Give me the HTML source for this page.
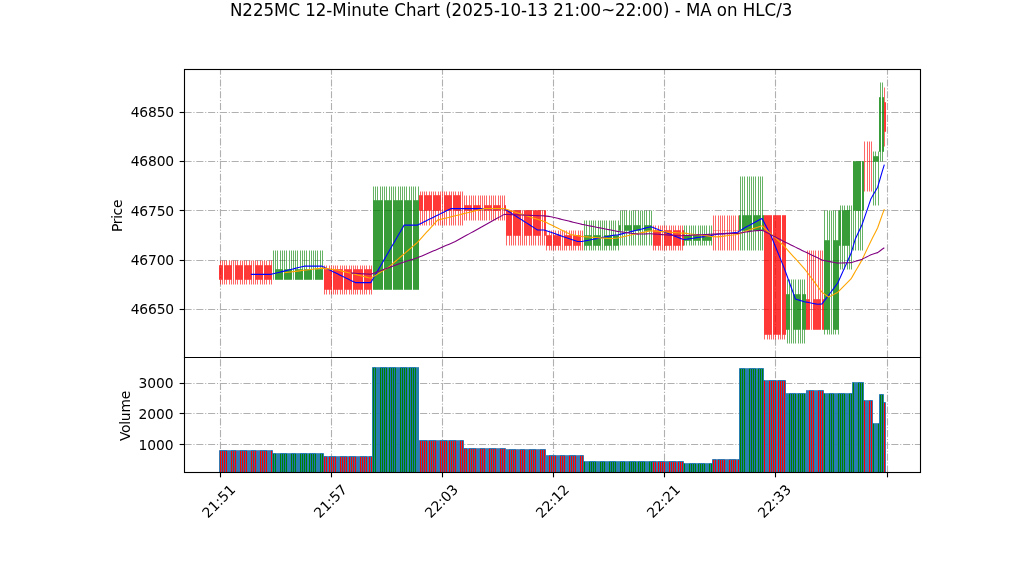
<!DOCTYPE html>
<html lang="en"><head><meta charset="utf-8"><title>N225MC 12-Minute Chart</title>
<style>html,body{margin:0;padding:0;background:#fff;overflow:hidden}body{width:1022px;height:575px}svg{display:block}</style>
</head><body>
<svg width="1022" height="575" viewBox="0 0 1022 575" style="display:block">
<rect width="1022" height="575" fill="#fff"/>
<defs>
<clipPath id="c1"><rect x="184.5" y="69.5" width="736.0" height="288.0"/></clipPath>
<clipPath id="c2"><rect x="184.5" y="357.5" width="736.0" height="115.0"/></clipPath>
</defs>
<g clip-path="url(#c1)">
<g stroke="#b0b0b0" stroke-width="1.11" stroke-dasharray="7.11 1.78 1.11 1.78" fill="none">
<path d="M220.5 357.5V69.5"/>
<path d="M331.5 357.5V69.5"/>
<path d="M442.5 357.5V69.5"/>
<path d="M553.5 357.5V69.5"/>
<path d="M664.5 357.5V69.5"/>
<path d="M775.5 357.5V69.5"/>
<path d="M887.5 357.5V69.5"/>
<path d="M184.5 309.5H920.5"/>
<path d="M184.5 260.5H920.5"/>
<path d="M184.5 210.5H920.5"/>
<path d="M184.5 161.5H920.5"/>
<path d="M184.5 112.5H920.5"/>
</g>
<path d="M220.5 284.5V279.5M220.5 265.5V260.5M222.5 284.5V279.5M222.5 265.5V260.5M224.5 284.5V279.5M224.5 265.5V260.5M226.5 284.5V279.5M226.5 265.5V260.5M229.5 284.5V279.5M229.5 265.5V260.5M231.5 284.5V279.5M231.5 265.5V260.5M233.5 284.5V279.5M233.5 265.5V260.5M235.5 284.5V279.5M235.5 265.5V260.5M237.5 284.5V279.5M237.5 265.5V260.5M240.5 284.5V279.5M240.5 265.5V260.5M242.5 284.5V279.5M242.5 265.5V260.5M244.5 284.5V279.5M244.5 265.5V260.5M246.5 284.5V279.5M246.5 265.5V260.5M249.5 284.5V279.5M249.5 265.5V260.5M251.5 284.5V279.5M251.5 265.5V260.5M253.5 284.5V279.5M253.5 265.5V260.5M255.5 284.5V279.5M255.5 265.5V260.5M257.5 284.5V279.5M257.5 265.5V260.5M260.5 284.5V279.5M260.5 265.5V260.5M262.5 284.5V279.5M262.5 265.5V260.5M264.5 284.5V279.5M264.5 265.5V260.5M266.5 284.5V279.5M266.5 265.5V260.5M269.5 284.5V279.5M269.5 265.5V260.5M271.5 284.5V279.5M271.5 265.5V260.5M324.5 294.5V289.5M324.5 269.5V265.5M326.5 294.5V289.5M326.5 269.5V265.5M329.5 294.5V289.5M329.5 269.5V265.5M331.5 294.5V289.5M331.5 269.5V265.5M333.5 294.5V289.5M333.5 269.5V265.5M335.5 294.5V289.5M335.5 269.5V265.5M337.5 294.5V289.5M337.5 269.5V265.5M340.5 294.5V289.5M340.5 269.5V265.5M342.5 294.5V289.5M342.5 269.5V265.5M344.5 294.5V289.5M344.5 269.5V265.5M346.5 294.5V289.5M346.5 269.5V265.5M349.5 294.5V289.5M349.5 269.5V265.5M351.5 294.5V289.5M351.5 269.5V265.5M353.5 294.5V289.5M353.5 269.5V265.5M355.5 294.5V289.5M355.5 269.5V265.5M357.5 294.5V289.5M357.5 269.5V265.5M360.5 294.5V289.5M360.5 269.5V265.5M362.5 294.5V289.5M362.5 269.5V265.5M364.5 294.5V289.5M364.5 269.5V265.5M366.5 294.5V289.5M366.5 269.5V265.5M369.5 294.5V289.5M369.5 269.5V265.5M371.5 294.5V289.5M371.5 269.5V265.5M420.5 225.5V210.5M420.5 195.5V191.5M422.5 225.5V210.5M422.5 195.5V191.5M424.5 225.5V210.5M424.5 195.5V191.5M426.5 225.5V210.5M426.5 195.5V191.5M429.5 225.5V210.5M429.5 195.5V191.5M431.5 225.5V210.5M431.5 195.5V191.5M433.5 225.5V210.5M433.5 195.5V191.5M435.5 225.5V210.5M435.5 195.5V191.5M438.5 225.5V210.5M438.5 195.5V191.5M440.5 225.5V210.5M440.5 195.5V191.5M442.5 225.5V210.5M442.5 195.5V191.5M444.5 225.5V210.5M444.5 195.5V191.5M446.5 225.5V210.5M446.5 195.5V191.5M449.5 225.5V210.5M449.5 195.5V191.5M451.5 225.5V210.5M451.5 195.5V191.5M453.5 225.5V210.5M453.5 195.5V191.5M455.5 225.5V210.5M455.5 195.5V191.5M458.5 225.5V210.5M458.5 195.5V191.5M460.5 225.5V210.5M460.5 195.5V191.5M462.5 225.5V210.5M462.5 195.5V191.5M464.5 220.5V210.5M464.5 205.5V195.5M466.5 220.5V210.5M466.5 205.5V195.5M469.5 220.5V210.5M469.5 205.5V195.5M471.5 220.5V210.5M471.5 205.5V195.5M473.5 220.5V210.5M473.5 205.5V195.5M475.5 220.5V210.5M475.5 205.5V195.5M478.5 220.5V210.5M478.5 205.5V195.5M480.5 220.5V210.5M480.5 205.5V195.5M482.5 220.5V210.5M482.5 205.5V195.5M484.5 220.5V210.5M484.5 205.5V195.5M486.5 220.5V210.5M486.5 205.5V195.5M489.5 220.5V210.5M489.5 205.5V195.5M491.5 220.5V210.5M491.5 205.5V195.5M493.5 220.5V210.5M493.5 205.5V195.5M495.5 220.5V210.5M495.5 205.5V195.5M498.5 220.5V210.5M498.5 205.5V195.5M500.5 220.5V210.5M500.5 205.5V195.5M502.5 220.5V210.5M502.5 205.5V195.5M504.5 220.5V210.5M504.5 205.5V195.5M506.5 245.5V235.5M509.5 245.5V235.5M511.5 245.5V235.5M513.5 245.5V235.5M515.5 245.5V235.5M518.5 245.5V235.5M520.5 245.5V235.5M522.5 245.5V235.5M524.5 245.5V235.5M526.5 245.5V235.5M529.5 245.5V235.5M531.5 245.5V235.5M533.5 245.5V235.5M535.5 245.5V235.5M538.5 245.5V235.5M540.5 245.5V235.5M542.5 245.5V235.5M544.5 245.5V235.5M546.5 250.5V245.5M546.5 235.5V230.5M549.5 250.5V245.5M549.5 235.5V230.5M551.5 250.5V245.5M551.5 235.5V230.5M553.5 250.5V245.5M553.5 235.5V230.5M555.5 250.5V245.5M555.5 235.5V230.5M558.5 250.5V245.5M558.5 235.5V230.5M560.5 250.5V245.5M560.5 235.5V230.5M562.5 250.5V245.5M562.5 235.5V230.5M564.5 250.5V245.5M564.5 235.5V230.5M566.5 250.5V245.5M566.5 235.5V230.5M569.5 250.5V245.5M569.5 235.5V230.5M571.5 250.5V245.5M571.5 235.5V230.5M573.5 250.5V245.5M573.5 235.5V230.5M575.5 250.5V245.5M575.5 235.5V230.5M578.5 250.5V245.5M578.5 235.5V230.5M580.5 250.5V245.5M580.5 235.5V230.5M582.5 250.5V245.5M582.5 235.5V230.5M653.5 250.5V245.5M653.5 230.5V225.5M655.5 250.5V245.5M655.5 230.5V225.5M658.5 250.5V245.5M658.5 230.5V225.5M660.5 250.5V245.5M660.5 230.5V225.5M662.5 250.5V245.5M662.5 230.5V225.5M664.5 250.5V245.5M664.5 230.5V225.5M666.5 250.5V245.5M666.5 230.5V225.5M669.5 250.5V245.5M669.5 230.5V225.5M671.5 250.5V245.5M671.5 230.5V225.5M673.5 250.5V245.5M673.5 230.5V225.5M675.5 250.5V245.5M675.5 230.5V225.5M678.5 250.5V245.5M678.5 230.5V225.5M680.5 250.5V245.5M680.5 230.5V225.5M682.5 250.5V245.5M682.5 230.5V225.5M713.5 250.5V230.5M713.5 230.5V215.5M715.5 250.5V230.5M715.5 230.5V215.5M718.5 250.5V230.5M718.5 230.5V215.5M720.5 250.5V230.5M720.5 230.5V215.5M722.5 250.5V230.5M722.5 230.5V215.5M724.5 250.5V230.5M724.5 230.5V215.5M727.5 250.5V230.5M727.5 230.5V215.5M729.5 250.5V230.5M729.5 230.5V215.5M731.5 250.5V230.5M731.5 230.5V215.5M733.5 250.5V230.5M733.5 230.5V215.5M735.5 250.5V230.5M735.5 230.5V215.5M738.5 250.5V230.5M738.5 230.5V215.5M764.5 339.5V334.5M767.5 339.5V334.5M769.5 339.5V334.5M771.5 339.5V334.5M773.5 339.5V334.5M775.5 339.5V334.5M778.5 339.5V334.5M780.5 339.5V334.5M782.5 339.5V334.5M784.5 339.5V334.5M807.5 299.5V250.5M809.5 299.5V250.5M811.5 299.5V250.5M813.5 299.5V250.5M815.5 299.5V250.5M818.5 299.5V250.5M820.5 299.5V250.5M822.5 299.5V250.5M864.5 191.5V161.5M864.5 161.5V141.5M867.5 191.5V161.5M867.5 161.5V141.5M869.5 191.5V161.5M869.5 161.5V141.5M871.5 191.5V161.5M871.5 161.5V141.5M884.5 146.5V131.5M884.5 102.5V87.5" stroke="#ff0000" stroke-width="0.604" fill="none"/>
<path d="M273.5 269.5V250.5M275.5 269.5V250.5M277.5 269.5V250.5M280.5 269.5V250.5M282.5 269.5V250.5M284.5 269.5V250.5M286.5 269.5V250.5M289.5 269.5V250.5M291.5 269.5V250.5M293.5 269.5V250.5M295.5 269.5V250.5M297.5 269.5V250.5M300.5 269.5V250.5M302.5 269.5V250.5M304.5 269.5V250.5M306.5 269.5V250.5M309.5 269.5V250.5M311.5 269.5V250.5M313.5 269.5V250.5M315.5 269.5V250.5M317.5 269.5V250.5M320.5 269.5V250.5M322.5 269.5V250.5M373.5 200.5V186.5M375.5 200.5V186.5M377.5 200.5V186.5M380.5 200.5V186.5M382.5 200.5V186.5M384.5 200.5V186.5M386.5 200.5V186.5M389.5 200.5V186.5M391.5 200.5V186.5M393.5 200.5V186.5M395.5 200.5V186.5M398.5 200.5V186.5M400.5 200.5V186.5M402.5 200.5V186.5M404.5 200.5V186.5M406.5 200.5V186.5M409.5 200.5V186.5M411.5 200.5V186.5M413.5 200.5V186.5M415.5 200.5V186.5M418.5 200.5V186.5M584.5 250.5V245.5M584.5 235.5V220.5M586.5 250.5V245.5M586.5 235.5V220.5M589.5 250.5V245.5M589.5 235.5V220.5M591.5 250.5V245.5M591.5 235.5V220.5M593.5 250.5V245.5M593.5 235.5V220.5M595.5 250.5V245.5M595.5 235.5V220.5M598.5 250.5V245.5M598.5 235.5V220.5M600.5 250.5V245.5M600.5 235.5V220.5M602.5 250.5V245.5M602.5 235.5V220.5M604.5 250.5V245.5M604.5 235.5V220.5M606.5 250.5V245.5M606.5 235.5V220.5M609.5 250.5V245.5M609.5 235.5V220.5M611.5 250.5V245.5M611.5 235.5V220.5M613.5 250.5V245.5M613.5 235.5V220.5M615.5 250.5V245.5M615.5 235.5V220.5M618.5 250.5V245.5M618.5 235.5V220.5M620.5 245.5V230.5M620.5 225.5V210.5M622.5 245.5V230.5M622.5 225.5V210.5M624.5 245.5V230.5M624.5 225.5V210.5M626.5 245.5V230.5M626.5 225.5V210.5M629.5 245.5V230.5M629.5 225.5V210.5M631.5 245.5V230.5M631.5 225.5V210.5M633.5 245.5V230.5M633.5 225.5V210.5M635.5 245.5V230.5M635.5 225.5V210.5M638.5 245.5V230.5M638.5 225.5V210.5M640.5 245.5V230.5M640.5 225.5V210.5M642.5 245.5V230.5M642.5 225.5V210.5M644.5 245.5V230.5M644.5 225.5V210.5M646.5 245.5V230.5M646.5 225.5V210.5M649.5 245.5V230.5M649.5 225.5V210.5M651.5 245.5V230.5M651.5 225.5V210.5M684.5 245.5V240.5M684.5 235.5V225.5M686.5 245.5V240.5M686.5 235.5V225.5M689.5 245.5V240.5M689.5 235.5V225.5M691.5 245.5V240.5M691.5 235.5V225.5M693.5 245.5V240.5M693.5 235.5V225.5M695.5 245.5V240.5M695.5 235.5V225.5M698.5 245.5V240.5M698.5 235.5V225.5M700.5 245.5V240.5M700.5 235.5V225.5M702.5 245.5V240.5M702.5 235.5V225.5M704.5 245.5V240.5M704.5 235.5V225.5M706.5 245.5V240.5M706.5 235.5V225.5M709.5 245.5V240.5M709.5 235.5V225.5M711.5 245.5V240.5M711.5 235.5V225.5M740.5 250.5V230.5M740.5 215.5V176.5M742.5 250.5V230.5M742.5 215.5V176.5M744.5 250.5V230.5M744.5 215.5V176.5M747.5 250.5V230.5M747.5 215.5V176.5M749.5 250.5V230.5M749.5 215.5V176.5M751.5 250.5V230.5M751.5 215.5V176.5M753.5 250.5V230.5M753.5 215.5V176.5M755.5 250.5V230.5M755.5 215.5V176.5M758.5 250.5V230.5M758.5 215.5V176.5M760.5 250.5V230.5M760.5 215.5V176.5M762.5 250.5V230.5M762.5 215.5V176.5M787.5 343.5V329.5M787.5 294.5V279.5M789.5 343.5V329.5M789.5 294.5V279.5M791.5 343.5V329.5M791.5 294.5V279.5M793.5 343.5V329.5M793.5 294.5V279.5M795.5 343.5V329.5M795.5 294.5V279.5M798.5 343.5V329.5M798.5 294.5V279.5M800.5 343.5V329.5M800.5 294.5V279.5M802.5 343.5V329.5M802.5 294.5V279.5M804.5 343.5V329.5M804.5 294.5V279.5M824.5 334.5V329.5M824.5 240.5V210.5M827.5 334.5V329.5M827.5 240.5V210.5M829.5 334.5V329.5M829.5 240.5V210.5M831.5 334.5V329.5M831.5 240.5V210.5M833.5 334.5V329.5M833.5 240.5V210.5M835.5 334.5V329.5M835.5 240.5V210.5M838.5 334.5V329.5M838.5 240.5V210.5M840.5 269.5V245.5M840.5 210.5V205.5M842.5 269.5V245.5M842.5 210.5V205.5M844.5 269.5V245.5M844.5 210.5V205.5M847.5 269.5V245.5M847.5 210.5V205.5M849.5 269.5V245.5M849.5 210.5V205.5M851.5 269.5V245.5M851.5 210.5V205.5M853.5 250.5V210.5M855.5 250.5V210.5M858.5 250.5V210.5M860.5 250.5V210.5M862.5 250.5V210.5M873.5 205.5V161.5M873.5 156.5V151.5M875.5 205.5V161.5M875.5 156.5V151.5M878.5 205.5V161.5M878.5 156.5V151.5M880.5 161.5V151.5M880.5 97.5V82.5M882.5 161.5V151.5M882.5 97.5V82.5" stroke="#008000" stroke-width="0.604" fill="none"/>
<path d="M219.5 265.5H220.5V279.5H219.5ZM221.5 265.5H222.5V279.5H221.5ZM224.5 265.5H225.5V279.5H224.5ZM226.5 265.5H227.5V279.5H226.5ZM228.5 265.5H229.5V279.5H228.5ZM230.5 265.5H231.5V279.5H230.5ZM235.5 265.5H236.5V279.5H235.5ZM237.5 265.5H238.5V279.5H237.5ZM239.5 265.5H240.5V279.5H239.5ZM241.5 265.5H242.5V279.5H241.5ZM244.5 265.5H245.5V279.5H244.5ZM246.5 265.5H247.5V279.5H246.5ZM248.5 265.5H249.5V279.5H248.5ZM250.5 265.5H251.5V279.5H250.5ZM255.5 265.5H256.5V279.5H255.5ZM257.5 265.5H258.5V279.5H257.5ZM259.5 265.5H260.5V279.5H259.5ZM261.5 265.5H262.5V279.5H261.5ZM264.5 265.5H265.5V279.5H264.5ZM266.5 265.5H267.5V279.5H266.5ZM268.5 265.5H269.5V279.5H268.5ZM270.5 265.5H271.5V279.5H270.5ZM324.5 269.5H325.5V289.5H324.5ZM326.5 269.5H327.5V289.5H326.5ZM328.5 269.5H329.5V289.5H328.5ZM330.5 269.5H331.5V289.5H330.5ZM333.5 269.5H334.5V289.5H333.5ZM335.5 269.5H336.5V289.5H335.5ZM337.5 269.5H338.5V289.5H337.5ZM339.5 269.5H340.5V289.5H339.5ZM341.5 269.5H342.5V289.5H341.5ZM344.5 269.5H345.5V289.5H344.5ZM346.5 269.5H347.5V289.5H346.5ZM348.5 269.5H349.5V289.5H348.5ZM350.5 269.5H351.5V289.5H350.5ZM353.5 269.5H354.5V289.5H353.5ZM355.5 269.5H356.5V289.5H355.5ZM357.5 269.5H358.5V289.5H357.5ZM359.5 269.5H360.5V289.5H359.5ZM361.5 269.5H362.5V289.5H361.5ZM364.5 269.5H365.5V289.5H364.5ZM366.5 269.5H367.5V289.5H366.5ZM368.5 269.5H369.5V289.5H368.5ZM370.5 269.5H371.5V289.5H370.5ZM419.5 195.5H420.5V210.5H419.5ZM421.5 195.5H422.5V210.5H421.5ZM424.5 195.5H425.5V210.5H424.5ZM426.5 195.5H427.5V210.5H426.5ZM428.5 195.5H429.5V210.5H428.5ZM430.5 195.5H431.5V210.5H430.5ZM433.5 195.5H434.5V210.5H433.5ZM435.5 195.5H436.5V210.5H435.5ZM437.5 195.5H438.5V210.5H437.5ZM439.5 195.5H440.5V210.5H439.5ZM444.5 195.5H445.5V210.5H444.5ZM446.5 195.5H447.5V210.5H446.5ZM448.5 195.5H449.5V210.5H448.5ZM450.5 195.5H451.5V210.5H450.5ZM453.5 195.5H454.5V210.5H453.5ZM455.5 195.5H456.5V210.5H455.5ZM457.5 195.5H458.5V210.5H457.5ZM459.5 195.5H460.5V210.5H459.5ZM464.5 205.5H465.5V210.5H464.5ZM466.5 205.5H467.5V210.5H466.5ZM468.5 205.5H469.5V210.5H468.5ZM470.5 205.5H471.5V210.5H470.5ZM473.5 205.5H474.5V210.5H473.5ZM475.5 205.5H476.5V210.5H475.5ZM477.5 205.5H478.5V210.5H477.5ZM479.5 205.5H480.5V210.5H479.5ZM484.5 205.5H485.5V210.5H484.5ZM486.5 205.5H487.5V210.5H486.5ZM488.5 205.5H489.5V210.5H488.5ZM490.5 205.5H491.5V210.5H490.5ZM493.5 205.5H494.5V210.5H493.5ZM495.5 205.5H496.5V210.5H495.5ZM497.5 205.5H498.5V210.5H497.5ZM499.5 205.5H500.5V210.5H499.5ZM504.5 205.5H505.5V210.5H504.5ZM506.5 210.5H507.5V235.5H506.5ZM508.5 210.5H509.5V235.5H508.5ZM510.5 210.5H511.5V235.5H510.5ZM513.5 210.5H514.5V235.5H513.5ZM515.5 210.5H516.5V235.5H515.5ZM517.5 210.5H518.5V235.5H517.5ZM519.5 210.5H520.5V235.5H519.5ZM524.5 210.5H525.5V235.5H524.5ZM526.5 210.5H527.5V235.5H526.5ZM528.5 210.5H529.5V235.5H528.5ZM530.5 210.5H531.5V235.5H530.5ZM533.5 210.5H534.5V235.5H533.5ZM535.5 210.5H536.5V235.5H535.5ZM537.5 210.5H538.5V235.5H537.5ZM539.5 210.5H540.5V235.5H539.5ZM544.5 210.5H545.5V235.5H544.5ZM546.5 235.5H547.5V245.5H546.5ZM548.5 235.5H549.5V245.5H548.5ZM550.5 235.5H551.5V245.5H550.5ZM553.5 235.5H554.5V245.5H553.5ZM555.5 235.5H556.5V245.5H555.5ZM557.5 235.5H558.5V245.5H557.5ZM559.5 235.5H560.5V245.5H559.5ZM564.5 235.5H565.5V245.5H564.5ZM566.5 235.5H567.5V245.5H566.5ZM568.5 235.5H569.5V245.5H568.5ZM570.5 235.5H571.5V245.5H570.5ZM573.5 235.5H574.5V245.5H573.5ZM575.5 235.5H576.5V245.5H575.5ZM577.5 235.5H578.5V245.5H577.5ZM579.5 235.5H580.5V245.5H579.5ZM653.5 230.5H654.5V245.5H653.5ZM655.5 230.5H656.5V245.5H655.5ZM657.5 230.5H658.5V245.5H657.5ZM659.5 230.5H660.5V245.5H659.5ZM664.5 230.5H665.5V245.5H664.5ZM666.5 230.5H667.5V245.5H666.5ZM668.5 230.5H669.5V245.5H668.5ZM670.5 230.5H671.5V245.5H670.5ZM673.5 230.5H674.5V245.5H673.5ZM675.5 230.5H676.5V245.5H675.5ZM677.5 230.5H678.5V245.5H677.5ZM679.5 230.5H680.5V245.5H679.5ZM682.5 230.5H683.5V245.5H682.5ZM764.5 215.5H765.5V334.5H764.5ZM766.5 215.5H767.5V334.5H766.5ZM768.5 215.5H769.5V334.5H768.5ZM770.5 215.5H771.5V334.5H770.5ZM773.5 215.5H774.5V334.5H773.5ZM775.5 215.5H776.5V334.5H775.5ZM777.5 215.5H778.5V334.5H777.5ZM779.5 215.5H780.5V334.5H779.5ZM782.5 215.5H783.5V334.5H782.5ZM784.5 215.5H785.5V334.5H784.5ZM806.5 299.5H807.5V329.5H806.5ZM808.5 299.5H809.5V329.5H808.5ZM813.5 299.5H814.5V329.5H813.5ZM815.5 299.5H816.5V329.5H815.5ZM817.5 299.5H818.5V329.5H817.5ZM819.5 299.5H820.5V329.5H819.5ZM822.5 299.5H823.5V329.5H822.5ZM884.5 102.5H885.5V131.5H884.5Z" fill="#ff0000" fill-opacity="0.9" stroke="#ff0000" stroke-width="0.604" stroke-linejoin="miter"/>
<path d="M233.5 265.2V279.8M253.5 265.2V279.8M442.5 195.2V210.8M462.5 195.2V210.8M482.5 205.2V210.8M502.5 205.2V210.8M522.5 210.2V235.8M542.5 210.2V235.8M562.5 235.2V245.8M582.5 235.2V245.8M662.5 230.2V245.8M811.5 299.2V329.8" fill="none" stroke="#ff0000" stroke-width="0.604"/>
<path d="M713.2 230.5H714.8M715.2 230.5H716.8M717.2 230.5H718.8M719.2 230.5H720.8M722.2 230.5H723.8M724.2 230.5H725.8M726.2 230.5H727.8M728.2 230.5H729.8M730.2 230.5H731.8M733.2 230.5H734.8M735.2 230.5H736.8M737.2 230.5H738.8M864.2 161.5H865.8M866.2 161.5H867.8M868.2 161.5H869.8M871.2 161.5H871.8" fill="none" stroke="#ff0000" stroke-opacity="0.65" stroke-width="0.604"/>
<path d="M275.5 269.5H276.5V279.5H275.5ZM277.5 269.5H278.5V279.5H277.5ZM279.5 269.5H280.5V279.5H279.5ZM281.5 269.5H282.5V279.5H281.5ZM284.5 269.5H285.5V279.5H284.5ZM286.5 269.5H287.5V279.5H286.5ZM288.5 269.5H289.5V279.5H288.5ZM290.5 269.5H291.5V279.5H290.5ZM295.5 269.5H296.5V279.5H295.5ZM297.5 269.5H298.5V279.5H297.5ZM299.5 269.5H300.5V279.5H299.5ZM301.5 269.5H302.5V279.5H301.5ZM304.5 269.5H305.5V279.5H304.5ZM306.5 269.5H307.5V279.5H306.5ZM308.5 269.5H309.5V279.5H308.5ZM310.5 269.5H311.5V279.5H310.5ZM315.5 269.5H316.5V279.5H315.5ZM317.5 269.5H318.5V279.5H317.5ZM319.5 269.5H320.5V279.5H319.5ZM321.5 269.5H322.5V279.5H321.5ZM373.5 200.5H374.5V289.5H373.5ZM375.5 200.5H376.5V289.5H375.5ZM377.5 200.5H378.5V289.5H377.5ZM379.5 200.5H380.5V289.5H379.5ZM381.5 200.5H382.5V289.5H381.5ZM384.5 200.5H385.5V289.5H384.5ZM386.5 200.5H387.5V289.5H386.5ZM388.5 200.5H389.5V289.5H388.5ZM390.5 200.5H391.5V289.5H390.5ZM393.5 200.5H394.5V289.5H393.5ZM395.5 200.5H396.5V289.5H395.5ZM397.5 200.5H398.5V289.5H397.5ZM399.5 200.5H400.5V289.5H399.5ZM401.5 200.5H402.5V289.5H401.5ZM404.5 200.5H405.5V289.5H404.5ZM406.5 200.5H407.5V289.5H406.5ZM408.5 200.5H409.5V289.5H408.5ZM410.5 200.5H411.5V289.5H410.5ZM413.5 200.5H414.5V289.5H413.5ZM415.5 200.5H416.5V289.5H415.5ZM417.5 200.5H418.5V289.5H417.5ZM584.5 235.5H585.5V245.5H584.5ZM586.5 235.5H587.5V245.5H586.5ZM588.5 235.5H589.5V245.5H588.5ZM590.5 235.5H591.5V245.5H590.5ZM593.5 235.5H594.5V245.5H593.5ZM595.5 235.5H596.5V245.5H595.5ZM597.5 235.5H598.5V245.5H597.5ZM599.5 235.5H600.5V245.5H599.5ZM604.5 235.5H605.5V245.5H604.5ZM606.5 235.5H607.5V245.5H606.5ZM608.5 235.5H609.5V245.5H608.5ZM610.5 235.5H611.5V245.5H610.5ZM613.5 235.5H614.5V245.5H613.5ZM615.5 235.5H616.5V245.5H615.5ZM617.5 235.5H618.5V245.5H617.5ZM619.5 225.5H620.5V230.5H619.5ZM624.5 225.5H625.5V230.5H624.5ZM626.5 225.5H627.5V230.5H626.5ZM628.5 225.5H629.5V230.5H628.5ZM630.5 225.5H631.5V230.5H630.5ZM633.5 225.5H634.5V230.5H633.5ZM635.5 225.5H636.5V230.5H635.5ZM637.5 225.5H638.5V230.5H637.5ZM639.5 225.5H640.5V230.5H639.5ZM644.5 225.5H645.5V230.5H644.5ZM646.5 225.5H647.5V230.5H646.5ZM648.5 225.5H649.5V230.5H648.5ZM650.5 225.5H651.5V230.5H650.5ZM684.5 235.5H685.5V240.5H684.5ZM686.5 235.5H687.5V240.5H686.5ZM688.5 235.5H689.5V240.5H688.5ZM690.5 235.5H691.5V240.5H690.5ZM693.5 235.5H694.5V240.5H693.5ZM695.5 235.5H696.5V240.5H695.5ZM697.5 235.5H698.5V240.5H697.5ZM699.5 235.5H700.5V240.5H699.5ZM702.5 235.5H703.5V240.5H702.5ZM704.5 235.5H705.5V240.5H704.5ZM706.5 235.5H707.5V240.5H706.5ZM708.5 235.5H709.5V240.5H708.5ZM710.5 235.5H711.5V240.5H710.5ZM739.5 215.5H740.5V230.5H739.5ZM742.5 215.5H743.5V230.5H742.5ZM744.5 215.5H745.5V230.5H744.5ZM746.5 215.5H747.5V230.5H746.5ZM748.5 215.5H749.5V230.5H748.5ZM750.5 215.5H751.5V230.5H750.5ZM753.5 215.5H754.5V230.5H753.5ZM755.5 215.5H756.5V230.5H755.5ZM757.5 215.5H758.5V230.5H757.5ZM759.5 215.5H760.5V230.5H759.5ZM762.5 215.5H763.5V230.5H762.5ZM786.5 294.5H787.5V329.5H786.5ZM788.5 294.5H789.5V329.5H788.5ZM793.5 294.5H794.5V329.5H793.5ZM795.5 294.5H796.5V329.5H795.5ZM797.5 294.5H798.5V329.5H797.5ZM799.5 294.5H800.5V329.5H799.5ZM802.5 294.5H803.5V329.5H802.5ZM804.5 294.5H805.5V329.5H804.5ZM824.5 240.5H825.5V329.5H824.5ZM826.5 240.5H827.5V329.5H826.5ZM828.5 240.5H829.5V329.5H828.5ZM833.5 240.5H834.5V329.5H833.5ZM835.5 240.5H836.5V329.5H835.5ZM837.5 240.5H838.5V329.5H837.5ZM839.5 210.5H840.5V245.5H839.5ZM842.5 210.5H843.5V245.5H842.5ZM844.5 210.5H845.5V245.5H844.5ZM846.5 210.5H847.5V245.5H846.5ZM848.5 210.5H849.5V245.5H848.5ZM853.5 161.5H854.5V210.5H853.5ZM855.5 161.5H856.5V210.5H855.5ZM857.5 161.5H858.5V210.5H857.5ZM859.5 161.5H860.5V210.5H859.5ZM862.5 161.5H863.5V210.5H862.5ZM873.5 156.5H874.5V161.5H873.5ZM875.5 156.5H876.5V161.5H875.5ZM877.5 156.5H878.5V161.5H877.5ZM879.5 97.5H880.5V151.5H879.5ZM882.5 97.5H883.5V151.5H882.5Z" fill="#008000" fill-opacity="0.9" stroke="#008000" stroke-width="0.604" stroke-linejoin="miter"/>
<path d="M273.5 269.2V279.8M293.5 269.2V279.8M313.5 269.2V279.8M602.5 235.2V245.8M622.5 225.2V230.8M642.5 225.2V230.8M791.5 294.2V329.8M831.5 240.2V329.8M851.5 210.2V245.8" fill="none" stroke="#008000" stroke-width="0.604"/>
<polyline points="250.79,274.39 253.01,274.39 255.24,274.39 257.46,274.39 259.68,274.39 261.91,274.39 264.13,274.39 266.35,274.39 268.57,274.39 270.8,274.39 273.02,273.84 275.24,273.3 277.47,272.75 279.69,272.2 281.91,271.65 284.14,271.1 286.36,270.56 288.58,270.01 290.8,269.46 293.03,268.91 295.25,268.37 297.47,267.82 299.7,267.27 301.92,266.72 304.14,266.17 306.36,266.17 308.59,266.17 310.81,266.17 313.03,266.17 315.26,266.17 317.48,266.17 319.7,266.17 321.93,266.17 324.15,267.27 326.37,268.37 328.59,269.46 330.82,270.56 333.04,271.65 335.26,272.75 337.49,273.84 339.71,274.94 341.93,276.04 344.15,277.13 346.38,278.23 348.6,279.32 350.82,280.42 353.05,281.52 355.27,282.61 357.49,282.61 359.72,282.61 361.94,282.61 364.16,282.61 366.38,282.61 368.61,282.61 370.83,282.61 373.05,278.78 375.28,274.94 377.5,271.1 379.72,267.27 381.94,263.43 384.17,259.6 386.39,255.76 388.61,251.93 390.84,248.09 393.06,244.26 395.28,240.42 397.51,236.59 399.73,232.75 401.95,228.91 404.17,225.08 406.4,225.08 408.62,225.08 410.84,225.08 413.07,225.08 415.29,225.08 417.51,225.08 419.73,223.98 421.96,222.89 424.18,221.79 426.4,220.7 428.63,219.6 430.85,218.5 433.07,217.41 435.3,216.31 437.52,215.22 439.74,214.12 441.96,213.02 444.19,211.93 446.41,210.83 448.63,209.74 450.86,208.64 453.08,208.64 455.3,208.64 457.52,208.64 459.75,208.64 461.97,208.64 464.19,208.64 466.42,208.64 468.64,208.64 470.86,208.64 473.09,208.64 475.31,208.64 477.53,208.64 479.75,208.64 481.98,208.64 484.2,208.64 486.42,208.64 488.65,208.64 490.87,208.64 493.09,208.64 495.31,208.64 497.54,208.64 499.76,208.64 501.98,208.64 504.21,208.64 506.43,210.07 508.65,211.49 510.88,212.91 513.1,214.34 515.32,215.76 517.54,217.19 519.77,218.61 521.99,220.04 524.21,221.46 526.44,222.89 528.66,224.31 530.88,225.74 533.1,227.16 535.33,228.59 537.55,230.01 539.77,230.01 542,230.01 544.22,230.01 546.44,230.78 548.67,231.54 550.89,232.31 553.11,233.08 555.33,233.85 557.56,234.61 559.78,235.38 562,236.15 564.23,236.91 566.45,237.68 568.67,238.45 570.9,239.22 573.12,239.98 575.34,240.75 577.56,241.52 579.79,241.52 582.01,241.52 584.23,241.08 586.46,240.64 588.68,240.2 590.9,239.76 593.12,239.32 595.35,238.89 597.57,238.45 599.79,238.01 602.02,237.57 604.24,237.13 606.46,236.69 608.69,236.26 610.91,235.82 613.13,235.38 615.35,234.94 617.58,234.94 619.8,234.39 622.02,233.85 624.25,233.3 626.47,232.75 628.69,232.2 630.91,231.65 633.14,231.11 635.36,230.56 637.58,230.01 639.81,229.46 642.03,228.91 644.25,228.37 646.48,227.82 648.7,227.27 650.92,226.72 653.14,227.6 655.37,228.48 657.59,229.35 659.81,230.23 662.04,231.11 664.26,231.98 666.48,232.86 668.7,233.74 670.93,234.61 673.15,235.49 675.37,236.37 677.6,237.24 679.82,238.12 682.04,239 684.27,239.54 686.49,239.22 688.71,238.89 690.93,238.56 693.16,238.23 695.38,237.9 697.6,237.57 699.83,237.24 702.05,236.91 704.27,236.59 706.49,236.26 708.72,235.93 710.94,235.6 713.16,235.05 715.39,234.5 717.61,234.28 719.83,234.06 722.06,233.85 724.28,233.63 726.5,233.41 728.72,233.19 730.95,232.97 733.17,232.75 735.39,232.53 737.62,232.31 739.84,230.89 742.06,229.46 744.28,228.04 746.51,226.83 748.73,225.63 750.95,224.42 753.18,223.22 755.4,222.01 757.62,220.8 759.85,219.6 762.07,218.39 764.29,222.67 766.51,226.94 768.74,231.22 770.96,235.49 773.18,240.97 775.41,246.45 777.63,251.93 779.85,257.41 782.07,262.89 784.3,268.37 786.52,274.5 788.74,280.64 790.97,286.78 793.19,292.91 795.41,299.05 797.64,299.71 799.86,300.36 802.08,301.02 804.3,301.68 806.53,302.12 808.75,302.56 810.97,302.99 813.2,303.43 815.42,303.87 817.64,304.31 819.86,304.09 822.09,303.87 824.31,300.91 826.53,297.95 828.76,294.99 830.98,292.04 833.2,289.08 835.43,286.12 837.65,283.16 839.87,278.23 842.09,273.3 844.32,268.37 846.54,263.43 848.76,258.5 850.99,253.57 853.21,246.12 855.43,238.67 857.65,233.95 859.88,229.24 862.1,224.53 864.32,218.06 866.55,211.6 868.77,205.13 870.99,198.67 873.22,194.83 875.44,191 877.66,187.16 879.88,179.49 882.11,171.82 884.33,164.7" fill="none" stroke="#0000ff" stroke-width="1.1" stroke-linejoin="round"/>
<polyline points="284.14,272.75 286.36,272.47 288.58,272.2 290.8,271.93 293.03,271.65 295.25,271.38 297.47,271.1 299.7,270.83 301.92,270.56 304.14,270.28 306.36,270.01 308.59,269.73 310.81,269.46 313.03,269.19 315.26,268.91 317.48,268.64 319.7,268.37 321.93,268.09 324.15,268.37 326.37,268.64 328.59,268.91 330.82,269.19 333.04,269.46 335.26,269.73 337.49,270.01 339.71,270.56 341.93,271.1 344.15,271.65 346.38,272.2 348.6,272.75 350.82,273.3 353.05,273.84 355.27,274.39 357.49,274.94 359.72,275.49 361.94,276.04 364.16,276.58 366.38,277.13 368.61,277.68 370.83,278.23 373.05,276.86 375.28,275.49 377.5,274.12 379.72,272.75 381.94,271.38 384.17,270.01 386.39,268.64 388.61,267.27 390.84,265.35 393.06,263.43 395.28,261.52 397.51,259.6 399.73,257.68 401.95,255.76 404.17,253.84 406.4,251.93 408.62,250.01 410.84,248.09 413.07,246.17 415.29,244.26 417.51,242.34 419.73,239.87 421.96,237.41 424.18,234.94 426.4,232.48 428.63,230.01 430.85,227.54 433.07,225.08 435.3,222.61 437.52,220.15 439.74,219.6 441.96,219.05 444.19,218.5 446.41,217.96 448.63,217.41 450.86,216.86 453.08,216.31 455.3,215.76 457.52,215.22 459.75,214.67 461.97,214.12 464.19,213.57 466.42,213.02 468.64,212.48 470.86,211.93 473.09,211.38 475.31,210.83 477.53,210.28 479.75,209.74 481.98,209.19 484.2,208.64 486.42,208.64 488.65,208.64 490.87,208.64 493.09,208.64 495.31,208.64 497.54,208.64 499.76,208.64 501.98,208.64 504.21,208.64 506.43,209.35 508.65,210.07 510.88,210.78 513.1,211.49 515.32,212.2 517.54,212.91 519.77,213.63 521.99,214.34 524.21,215.05 526.44,215.76 528.66,216.48 530.88,217.19 533.1,217.9 535.33,218.61 537.55,219.33 539.77,220.04 542,220.75 544.22,221.46 546.44,222.56 548.67,223.65 550.89,224.75 553.11,225.85 555.33,226.94 557.56,228.04 559.78,229.13 562,230.23 564.23,231.32 566.45,232.42 568.67,233.52 570.9,234.61 573.12,235 575.34,235.38 577.56,235.76 579.79,236.15 582.01,236.53 584.23,236.69 586.46,236.86 588.68,237.02 590.9,237.19 593.12,237.35 595.35,237.52 597.57,237.68 599.79,237.85 602.02,238.01 604.24,238.17 606.46,238.34 608.69,238.5 610.91,238.67 613.13,238.45 615.35,238.23 617.58,238.01 619.8,237.52 622.02,237.02 624.25,236.53 626.47,236.04 628.69,235.54 630.91,235.05 633.14,234.56 635.36,234.06 637.58,233.57 639.81,233.08 642.03,232.59 644.25,232.09 646.48,231.6 648.7,231.11 650.92,230.83 653.14,231 655.37,231.16 657.59,231.32 659.81,231.49 662.04,231.65 664.26,231.82 666.48,231.98 668.7,232.15 670.93,232.31 673.15,232.48 675.37,232.64 677.6,232.8 679.82,232.97 682.04,233.13 684.27,233.13 686.49,233.41 688.71,233.68 690.93,233.95 693.16,234.23 695.38,234.5 697.6,234.78 699.83,235.05 702.05,235.32 704.27,235.6 706.49,235.87 708.72,236.15 710.94,236.42 713.16,236.59 715.39,236.75 717.61,236.91 719.83,236.64 722.06,236.37 724.28,236.09 726.5,235.82 728.72,235.54 730.95,235.27 733.17,235 735.39,234.72 737.62,234.45 739.84,233.57 742.06,232.69 744.28,231.82 746.51,230.94 748.73,230.06 750.95,229.35 753.18,228.64 755.4,227.93 757.62,227.22 759.85,226.5 762.07,225.79 764.29,227.82 766.51,229.85 768.74,231.87 770.96,233.9 773.18,235.93 775.41,237.95 777.63,239.98 779.85,242.12 782.07,244.26 784.3,246.39 786.52,248.86 788.74,251.32 790.97,253.79 793.19,256.26 795.41,258.72 797.64,261.19 799.86,263.65 802.08,266.12 804.3,268.58 806.53,271.54 808.75,274.5 810.97,277.46 813.2,280.42 815.42,283.38 817.64,286.34 819.86,289.3 822.09,292.25 824.31,293.84 826.53,295.43 828.76,297.02 830.98,295.87 833.2,294.72 835.43,293.57 837.65,292.42 839.87,290.17 842.09,287.93 844.32,285.68 846.54,283.43 848.76,281.19 850.99,278.94 853.21,275.1 855.43,271.27 857.65,267.43 859.88,263.6 862.1,259.76 864.32,255.05 866.55,250.34 868.77,245.63 870.99,240.91 873.22,236.53 875.44,232.15 877.66,227.76 879.88,221.46 882.11,215.16 884.33,209.13" fill="none" stroke="#ffa500" stroke-width="1.1" stroke-linejoin="round"/>
<polyline points="350.82,273.02 353.05,273.16 355.27,273.3 357.49,273.43 359.72,273.57 361.94,273.71 364.16,273.84 366.38,273.98 368.61,274.12 370.83,274.26 373.05,273.43 375.28,272.61 377.5,271.79 379.72,270.97 381.94,270.15 384.17,269.32 386.39,268.5 388.61,267.68 390.84,266.86 393.06,266.04 395.28,265.21 397.51,264.39 399.73,263.57 401.95,262.75 404.17,261.93 406.4,261.24 408.62,260.56 410.84,259.87 413.07,259.19 415.29,258.5 417.51,257.82 419.73,256.86 421.96,255.9 424.18,254.94 426.4,253.98 428.63,253.02 430.85,252.06 433.07,251.11 435.3,250.15 437.52,249.19 439.74,248.23 441.96,247.27 444.19,246.31 446.41,245.35 448.63,244.39 450.86,243.43 453.08,242.48 455.3,241.52 457.52,240.28 459.75,239.05 461.97,237.82 464.19,236.59 466.42,235.35 468.64,234.12 470.86,232.89 473.09,231.65 475.31,230.42 477.53,229.19 479.75,227.96 481.98,226.72 484.2,225.49 486.42,224.26 488.65,223.02 490.87,221.79 493.09,220.56 495.31,219.33 497.54,218.09 499.76,216.86 501.98,215.63 504.21,214.39 506.43,214.48 508.65,214.56 510.88,214.64 513.1,214.72 515.32,214.8 517.54,214.89 519.77,214.97 521.99,215.05 524.21,215.13 526.44,215.22 528.66,215.3 530.88,215.38 533.1,215.46 535.33,215.54 537.55,215.63 539.77,215.71 542,215.79 544.22,215.87 546.44,216.15 548.67,216.42 550.89,216.7 553.11,217.24 555.33,217.79 557.56,218.34 559.78,218.89 562,219.43 564.23,219.98 566.45,220.53 568.67,221.08 570.9,221.63 573.12,222.17 575.34,222.72 577.56,223.27 579.79,223.82 582.01,224.37 584.23,224.8 586.46,225.24 588.68,225.68 590.9,226.12 593.12,226.56 595.35,227 597.57,227.43 599.79,227.87 602.02,228.31 604.24,228.75 606.46,229.19 608.69,229.63 610.91,230.06 613.13,230.5 615.35,230.94 617.58,231.38 619.8,231.68 622.02,231.98 624.25,232.28 626.47,232.59 628.69,232.89 630.91,233.19 633.14,233.49 635.36,233.79 637.58,234.09 639.81,234.04 642.03,233.98 644.25,233.93 646.48,233.87 648.7,233.82 650.92,233.76 653.14,233.93 655.37,234.09 657.59,234.26 659.81,234.42 662.04,234.59 664.26,234.75 666.48,234.91 668.7,235.08 670.93,235.24 673.15,235.41 675.37,235.57 677.6,235.74 679.82,235.71 682.04,235.68 684.27,235.57 686.49,235.46 688.71,235.35 690.93,235.24 693.16,235.13 695.38,235.02 697.6,234.91 699.83,234.8 702.05,234.69 704.27,234.59 706.49,234.48 708.72,234.37 710.94,234.26 713.16,234.09 715.39,233.93 717.61,233.87 719.83,233.82 722.06,233.76 724.28,233.71 726.5,233.65 728.72,233.6 730.95,233.54 733.17,233.49 735.39,233.43 737.62,233.38 739.84,233.02 742.06,232.67 744.28,232.31 746.51,231.96 748.73,231.6 750.95,231.24 753.18,231.02 755.4,230.8 757.62,230.59 759.85,230.37 762.07,230.15 764.29,231.3 766.51,232.45 768.74,233.6 770.96,234.75 773.18,235.9 775.41,237.05 777.63,238.2 779.85,239.35 782.07,240.5 784.3,241.65 786.52,242.75 788.74,243.85 790.97,244.94 793.19,246.04 795.41,247.13 797.64,248.23 799.86,249.32 802.08,250.42 804.3,251.52 806.53,252.56 808.75,253.6 810.97,254.64 813.2,255.68 815.42,256.72 817.64,257.84 819.86,258.97 822.09,260.09 824.31,260.53 826.53,260.97 828.76,261.41 830.98,261.84 833.2,262.28 835.43,262.72 837.65,263.16 839.87,263.05 842.09,262.94 844.32,262.83 846.54,262.78 848.76,262.72 850.99,262.67 853.21,261.98 855.43,261.3 857.65,260.61 859.88,259.93 862.1,259.24 864.32,258.12 866.55,257 868.77,255.87 870.99,254.75 873.22,254.04 875.44,253.32 877.66,252.61 879.88,250.94 882.11,249.27 884.33,247.74" fill="none" stroke="#800080" stroke-width="1.1" stroke-linejoin="round"/>
</g>
<g clip-path="url(#c2)">
<g stroke="#b0b0b0" stroke-width="1.11" stroke-dasharray="7.11 1.78 1.11 1.78" fill="none">
<path d="M220.5 472.5V357.5"/>
<path d="M331.5 472.5V357.5"/>
<path d="M442.5 472.5V357.5"/>
<path d="M553.5 472.5V357.5"/>
<path d="M664.5 472.5V357.5"/>
<path d="M775.5 472.5V357.5"/>
<path d="M887.5 472.5V357.5"/>
<path d="M184.5 444.5H920.5"/>
<path d="M184.5 413.5H920.5"/>
<path d="M184.5 383.5H920.5"/>
</g>
<path d="M219.5 477.5V450.5H221.5V477.5ZM221.5 477.5V450.5H223.5V477.5ZM223.5 477.5V450.5H225.5V477.5ZM225.5 477.5V450.5H227.5V477.5ZM228.5 477.5V450.5H229.5V477.5ZM230.5 477.5V450.5H232.5V477.5ZM232.5 477.5V450.5H234.5V477.5ZM234.5 477.5V450.5H236.5V477.5ZM237.5 477.5V450.5H238.5V477.5ZM239.5 477.5V450.5H241.5V477.5ZM241.5 477.5V450.5H243.5V477.5ZM243.5 477.5V450.5H245.5V477.5ZM245.5 477.5V450.5H247.5V477.5ZM248.5 477.5V450.5H249.5V477.5ZM250.5 477.5V450.5H252.5V477.5ZM252.5 477.5V450.5H254.5V477.5ZM254.5 477.5V450.5H256.5V477.5ZM257.5 477.5V450.5H258.5V477.5ZM259.5 477.5V450.5H261.5V477.5ZM261.5 477.5V450.5H263.5V477.5ZM263.5 477.5V450.5H265.5V477.5ZM265.5 477.5V450.5H267.5V477.5ZM268.5 477.5V450.5H269.5V477.5ZM270.5 477.5V450.5H272.5V477.5ZM323.5 477.5V456.5H325.5V477.5ZM325.5 477.5V456.5H327.5V477.5ZM328.5 477.5V456.5H330.5V477.5ZM330.5 477.5V456.5H332.5V477.5ZM332.5 477.5V456.5H334.5V477.5ZM334.5 477.5V456.5H336.5V477.5ZM337.5 477.5V456.5H338.5V477.5ZM339.5 477.5V456.5H341.5V477.5ZM341.5 477.5V456.5H343.5V477.5ZM343.5 477.5V456.5H345.5V477.5ZM345.5 477.5V456.5H347.5V477.5ZM348.5 477.5V456.5H350.5V477.5ZM350.5 477.5V456.5H352.5V477.5ZM352.5 477.5V456.5H354.5V477.5ZM354.5 477.5V456.5H356.5V477.5ZM357.5 477.5V456.5H358.5V477.5ZM359.5 477.5V456.5H361.5V477.5ZM361.5 477.5V456.5H363.5V477.5ZM363.5 477.5V456.5H365.5V477.5ZM365.5 477.5V456.5H367.5V477.5ZM368.5 477.5V456.5H370.5V477.5ZM370.5 477.5V456.5H372.5V477.5ZM419.5 477.5V440.5H421.5V477.5ZM421.5 477.5V440.5H423.5V477.5ZM423.5 477.5V440.5H425.5V477.5ZM425.5 477.5V440.5H427.5V477.5ZM428.5 477.5V440.5H430.5V477.5ZM430.5 477.5V440.5H432.5V477.5ZM432.5 477.5V440.5H434.5V477.5ZM434.5 477.5V440.5H436.5V477.5ZM437.5 477.5V440.5H438.5V477.5ZM439.5 477.5V440.5H441.5V477.5ZM441.5 477.5V440.5H443.5V477.5ZM443.5 477.5V440.5H445.5V477.5ZM445.5 477.5V440.5H447.5V477.5ZM448.5 477.5V440.5H450.5V477.5ZM450.5 477.5V440.5H452.5V477.5ZM452.5 477.5V440.5H454.5V477.5ZM454.5 477.5V440.5H456.5V477.5ZM457.5 477.5V440.5H458.5V477.5ZM459.5 477.5V440.5H461.5V477.5ZM461.5 477.5V440.5H463.5V477.5ZM463.5 477.5V448.5H465.5V477.5ZM465.5 477.5V448.5H467.5V477.5ZM468.5 477.5V448.5H470.5V477.5ZM470.5 477.5V448.5H472.5V477.5ZM472.5 477.5V448.5H474.5V477.5ZM474.5 477.5V448.5H476.5V477.5ZM477.5 477.5V448.5H478.5V477.5ZM479.5 477.5V448.5H481.5V477.5ZM481.5 477.5V448.5H483.5V477.5ZM483.5 477.5V448.5H485.5V477.5ZM486.5 477.5V448.5H487.5V477.5ZM488.5 477.5V448.5H490.5V477.5ZM490.5 477.5V448.5H492.5V477.5ZM492.5 477.5V448.5H494.5V477.5ZM494.5 477.5V448.5H496.5V477.5ZM497.5 477.5V448.5H498.5V477.5ZM499.5 477.5V448.5H501.5V477.5ZM501.5 477.5V448.5H503.5V477.5ZM503.5 477.5V448.5H505.5V477.5ZM506.5 477.5V449.5H507.5V477.5ZM508.5 477.5V449.5H510.5V477.5ZM510.5 477.5V449.5H512.5V477.5ZM512.5 477.5V449.5H514.5V477.5ZM514.5 477.5V449.5H516.5V477.5ZM517.5 477.5V449.5H518.5V477.5ZM519.5 477.5V449.5H521.5V477.5ZM521.5 477.5V449.5H523.5V477.5ZM523.5 477.5V449.5H525.5V477.5ZM526.5 477.5V449.5H527.5V477.5ZM528.5 477.5V449.5H530.5V477.5ZM530.5 477.5V449.5H532.5V477.5ZM532.5 477.5V449.5H534.5V477.5ZM534.5 477.5V449.5H536.5V477.5ZM537.5 477.5V449.5H538.5V477.5ZM539.5 477.5V449.5H541.5V477.5ZM541.5 477.5V449.5H543.5V477.5ZM543.5 477.5V449.5H545.5V477.5ZM546.5 477.5V455.5H547.5V477.5ZM548.5 477.5V455.5H550.5V477.5ZM550.5 477.5V455.5H552.5V477.5ZM552.5 477.5V455.5H554.5V477.5ZM554.5 477.5V455.5H556.5V477.5ZM557.5 477.5V455.5H558.5V477.5ZM559.5 477.5V455.5H561.5V477.5ZM561.5 477.5V455.5H563.5V477.5ZM563.5 477.5V455.5H565.5V477.5ZM566.5 477.5V455.5H567.5V477.5ZM568.5 477.5V455.5H570.5V477.5ZM570.5 477.5V455.5H572.5V477.5ZM572.5 477.5V455.5H574.5V477.5ZM574.5 477.5V455.5H576.5V477.5ZM577.5 477.5V455.5H578.5V477.5ZM579.5 477.5V455.5H581.5V477.5ZM581.5 477.5V455.5H583.5V477.5ZM652.5 477.5V461.5H654.5V477.5ZM654.5 477.5V461.5H656.5V477.5ZM657.5 477.5V461.5H659.5V477.5ZM659.5 477.5V461.5H661.5V477.5ZM661.5 477.5V461.5H663.5V477.5ZM663.5 477.5V461.5H665.5V477.5ZM666.5 477.5V461.5H667.5V477.5ZM668.5 477.5V461.5H670.5V477.5ZM670.5 477.5V461.5H672.5V477.5ZM672.5 477.5V461.5H674.5V477.5ZM674.5 477.5V461.5H676.5V477.5ZM677.5 477.5V461.5H679.5V477.5ZM679.5 477.5V461.5H681.5V477.5ZM681.5 477.5V461.5H683.5V477.5ZM712.5 477.5V459.5H714.5V477.5ZM714.5 477.5V459.5H716.5V477.5ZM717.5 477.5V459.5H719.5V477.5ZM719.5 477.5V459.5H721.5V477.5ZM721.5 477.5V459.5H723.5V477.5ZM723.5 477.5V459.5H725.5V477.5ZM726.5 477.5V459.5H727.5V477.5ZM728.5 477.5V459.5H730.5V477.5ZM730.5 477.5V459.5H732.5V477.5ZM732.5 477.5V459.5H734.5V477.5ZM734.5 477.5V459.5H736.5V477.5ZM737.5 477.5V459.5H739.5V477.5ZM763.5 477.5V380.5H765.5V477.5ZM766.5 477.5V380.5H767.5V477.5ZM768.5 477.5V380.5H770.5V477.5ZM770.5 477.5V380.5H772.5V477.5ZM772.5 477.5V380.5H774.5V477.5ZM774.5 477.5V380.5H776.5V477.5ZM777.5 477.5V380.5H779.5V477.5ZM779.5 477.5V380.5H781.5V477.5ZM781.5 477.5V380.5H783.5V477.5ZM783.5 477.5V380.5H785.5V477.5ZM806.5 477.5V390.5H807.5V477.5ZM808.5 477.5V390.5H810.5V477.5ZM810.5 477.5V390.5H812.5V477.5ZM812.5 477.5V390.5H814.5V477.5ZM815.5 477.5V390.5H816.5V477.5ZM817.5 477.5V390.5H819.5V477.5ZM819.5 477.5V390.5H821.5V477.5ZM821.5 477.5V390.5H823.5V477.5ZM863.5 477.5V400.5H865.5V477.5ZM866.5 477.5V400.5H867.5V477.5ZM868.5 477.5V400.5H870.5V477.5ZM870.5 477.5V400.5H872.5V477.5ZM883.5 477.5V402.5H885.5V477.5Z" fill="#ff0000" stroke="#1f77b4" stroke-width="0.9"/>
<path d="M272.5 477.5V453.5H274.5V477.5ZM274.5 477.5V453.5H276.5V477.5ZM277.5 477.5V453.5H278.5V477.5ZM279.5 477.5V453.5H281.5V477.5ZM281.5 477.5V453.5H283.5V477.5ZM283.5 477.5V453.5H285.5V477.5ZM285.5 477.5V453.5H287.5V477.5ZM288.5 477.5V453.5H289.5V477.5ZM290.5 477.5V453.5H292.5V477.5ZM292.5 477.5V453.5H294.5V477.5ZM294.5 477.5V453.5H296.5V477.5ZM297.5 477.5V453.5H298.5V477.5ZM299.5 477.5V453.5H301.5V477.5ZM301.5 477.5V453.5H303.5V477.5ZM303.5 477.5V453.5H305.5V477.5ZM305.5 477.5V453.5H307.5V477.5ZM308.5 477.5V453.5H310.5V477.5ZM310.5 477.5V453.5H312.5V477.5ZM312.5 477.5V453.5H314.5V477.5ZM314.5 477.5V453.5H316.5V477.5ZM317.5 477.5V453.5H318.5V477.5ZM319.5 477.5V453.5H321.5V477.5ZM321.5 477.5V453.5H323.5V477.5ZM372.5 477.5V367.5H374.5V477.5ZM374.5 477.5V367.5H376.5V477.5ZM377.5 477.5V367.5H378.5V477.5ZM379.5 477.5V367.5H381.5V477.5ZM381.5 477.5V367.5H383.5V477.5ZM383.5 477.5V367.5H385.5V477.5ZM385.5 477.5V367.5H387.5V477.5ZM388.5 477.5V367.5H390.5V477.5ZM390.5 477.5V367.5H392.5V477.5ZM392.5 477.5V367.5H394.5V477.5ZM394.5 477.5V367.5H396.5V477.5ZM397.5 477.5V367.5H398.5V477.5ZM399.5 477.5V367.5H401.5V477.5ZM401.5 477.5V367.5H403.5V477.5ZM403.5 477.5V367.5H405.5V477.5ZM405.5 477.5V367.5H407.5V477.5ZM408.5 477.5V367.5H410.5V477.5ZM410.5 477.5V367.5H412.5V477.5ZM412.5 477.5V367.5H414.5V477.5ZM414.5 477.5V367.5H416.5V477.5ZM417.5 477.5V367.5H418.5V477.5ZM583.5 477.5V461.5H585.5V477.5ZM586.5 477.5V461.5H587.5V477.5ZM588.5 477.5V461.5H590.5V477.5ZM590.5 477.5V461.5H592.5V477.5ZM592.5 477.5V461.5H594.5V477.5ZM594.5 477.5V461.5H596.5V477.5ZM597.5 477.5V461.5H598.5V477.5ZM599.5 477.5V461.5H601.5V477.5ZM601.5 477.5V461.5H603.5V477.5ZM603.5 477.5V461.5H605.5V477.5ZM606.5 477.5V461.5H607.5V477.5ZM608.5 477.5V461.5H610.5V477.5ZM610.5 477.5V461.5H612.5V477.5ZM612.5 477.5V461.5H614.5V477.5ZM614.5 477.5V461.5H616.5V477.5ZM617.5 477.5V461.5H618.5V477.5ZM619.5 477.5V461.5H621.5V477.5ZM621.5 477.5V461.5H623.5V477.5ZM623.5 477.5V461.5H625.5V477.5ZM626.5 477.5V461.5H627.5V477.5ZM628.5 477.5V461.5H630.5V477.5ZM630.5 477.5V461.5H632.5V477.5ZM632.5 477.5V461.5H634.5V477.5ZM634.5 477.5V461.5H636.5V477.5ZM637.5 477.5V461.5H639.5V477.5ZM639.5 477.5V461.5H641.5V477.5ZM641.5 477.5V461.5H643.5V477.5ZM643.5 477.5V461.5H645.5V477.5ZM646.5 477.5V461.5H647.5V477.5ZM648.5 477.5V461.5H650.5V477.5ZM650.5 477.5V461.5H652.5V477.5ZM683.5 477.5V463.5H685.5V477.5ZM686.5 477.5V463.5H687.5V477.5ZM688.5 477.5V463.5H690.5V477.5ZM690.5 477.5V463.5H692.5V477.5ZM692.5 477.5V463.5H694.5V477.5ZM694.5 477.5V463.5H696.5V477.5ZM697.5 477.5V463.5H699.5V477.5ZM699.5 477.5V463.5H701.5V477.5ZM701.5 477.5V463.5H703.5V477.5ZM703.5 477.5V463.5H705.5V477.5ZM706.5 477.5V463.5H707.5V477.5ZM708.5 477.5V463.5H710.5V477.5ZM710.5 477.5V463.5H712.5V477.5ZM739.5 477.5V368.5H741.5V477.5ZM741.5 477.5V368.5H743.5V477.5ZM743.5 477.5V368.5H745.5V477.5ZM746.5 477.5V368.5H747.5V477.5ZM748.5 477.5V368.5H750.5V477.5ZM750.5 477.5V368.5H752.5V477.5ZM752.5 477.5V368.5H754.5V477.5ZM754.5 477.5V368.5H756.5V477.5ZM757.5 477.5V368.5H759.5V477.5ZM759.5 477.5V368.5H761.5V477.5ZM761.5 477.5V368.5H763.5V477.5ZM786.5 477.5V393.5H787.5V477.5ZM788.5 477.5V393.5H790.5V477.5ZM790.5 477.5V393.5H792.5V477.5ZM792.5 477.5V393.5H794.5V477.5ZM794.5 477.5V393.5H796.5V477.5ZM797.5 477.5V393.5H799.5V477.5ZM799.5 477.5V393.5H801.5V477.5ZM801.5 477.5V393.5H803.5V477.5ZM803.5 477.5V393.5H805.5V477.5ZM823.5 477.5V393.5H825.5V477.5ZM826.5 477.5V393.5H827.5V477.5ZM828.5 477.5V393.5H830.5V477.5ZM830.5 477.5V393.5H832.5V477.5ZM832.5 477.5V393.5H834.5V477.5ZM835.5 477.5V393.5H836.5V477.5ZM837.5 477.5V393.5H839.5V477.5ZM839.5 477.5V393.5H841.5V477.5ZM841.5 477.5V393.5H843.5V477.5ZM843.5 477.5V393.5H845.5V477.5ZM846.5 477.5V393.5H847.5V477.5ZM848.5 477.5V393.5H850.5V477.5ZM850.5 477.5V393.5H852.5V477.5ZM852.5 477.5V382.5H854.5V477.5ZM855.5 477.5V382.5H856.5V477.5ZM857.5 477.5V382.5H859.5V477.5ZM859.5 477.5V382.5H861.5V477.5ZM861.5 477.5V382.5H863.5V477.5ZM872.5 477.5V423.5H874.5V477.5ZM875.5 477.5V423.5H876.5V477.5ZM877.5 477.5V423.5H879.5V477.5ZM879.5 477.5V394.5H881.5V477.5ZM881.5 477.5V394.5H883.5V477.5Z" fill="#008000" stroke="#1f77b4" stroke-width="0.9"/>
</g>
<g stroke="#000" stroke-width="1.11" fill="none" stroke-linecap="square">
<rect x="184.5" y="69.5" width="736.0" height="403.0"/>
<path d="M184.5 357.5H920.5"/>
</g>
<g stroke="#000" stroke-width="1.11" fill="none">
<path d="M184.5 309.5h-4.86"/>
<path d="M184.5 260.5h-4.86"/>
<path d="M184.5 210.5h-4.86"/>
<path d="M184.5 161.5h-4.86"/>
<path d="M184.5 112.5h-4.86"/>
<path d="M184.5 444.5h-4.86"/>
<path d="M184.5 413.5h-4.86"/>
<path d="M184.5 383.5h-4.86"/>
<path d="M220.5 472.5v4.86"/>
<path d="M331.5 472.5v4.86"/>
<path d="M442.5 472.5v4.86"/>
<path d="M553.5 472.5v4.86"/>
<path d="M664.5 472.5v4.86"/>
<path d="M775.5 472.5v4.86"/>
<path d="M887.5 472.5v4.86"/>
</g>
<g font-family="'DejaVu Sans', 'Liberation Sans', sans-serif" font-size="13.889" fill="#000">
<text x="174.0" y="314.4" text-anchor="end" letter-spacing="-0.16">46650</text>
<text x="174.0" y="265.4" text-anchor="end" letter-spacing="-0.16">46700</text>
<text x="174.0" y="216.4" text-anchor="end" letter-spacing="-0.16">46750</text>
<text x="174.0" y="166.4" text-anchor="end" letter-spacing="-0.16">46800</text>
<text x="174.0" y="117.4" text-anchor="end" letter-spacing="-0.16">46850</text>
<text x="173.4" y="450.4" text-anchor="end" letter-spacing="-0.1">1000</text>
<text x="173.4" y="419.4" text-anchor="end" letter-spacing="-0.1">2000</text>
<text x="173.4" y="388.4" text-anchor="end" letter-spacing="-0.1">3000</text>
<text transform="translate(218.5,501.1) rotate(-45)" text-anchor="middle" y="5.05">21:51</text>
<text transform="translate(330.2,501.1) rotate(-45)" text-anchor="middle" y="5.05">21:57</text>
<text transform="translate(441.2,501.1) rotate(-45)" text-anchor="middle" y="5.05">22:03</text>
<text transform="translate(552.2,501.1) rotate(-45)" text-anchor="middle" y="5.05">22:12</text>
<text transform="translate(663.2,501.1) rotate(-45)" text-anchor="middle" y="5.05">22:21</text>
<text transform="translate(774.2,501.1) rotate(-45)" text-anchor="middle" y="5.05">22:33</text>
<text transform="translate(121.5,215.95) rotate(-90)" text-anchor="middle" letter-spacing="-0.37">Price</text>
<text transform="translate(130.3,416.1) rotate(-90)" text-anchor="middle" letter-spacing="-0.26">Volume</text>
<text transform="translate(511.1,16.4) scale(1,1.035)" text-anchor="middle" font-size="16.667" letter-spacing="-0.035">N225MC 12-Minute Chart (2025-10-13 21:00~22:00) - MA on HLC/3</text>
</g>
</svg>
</body></html>
